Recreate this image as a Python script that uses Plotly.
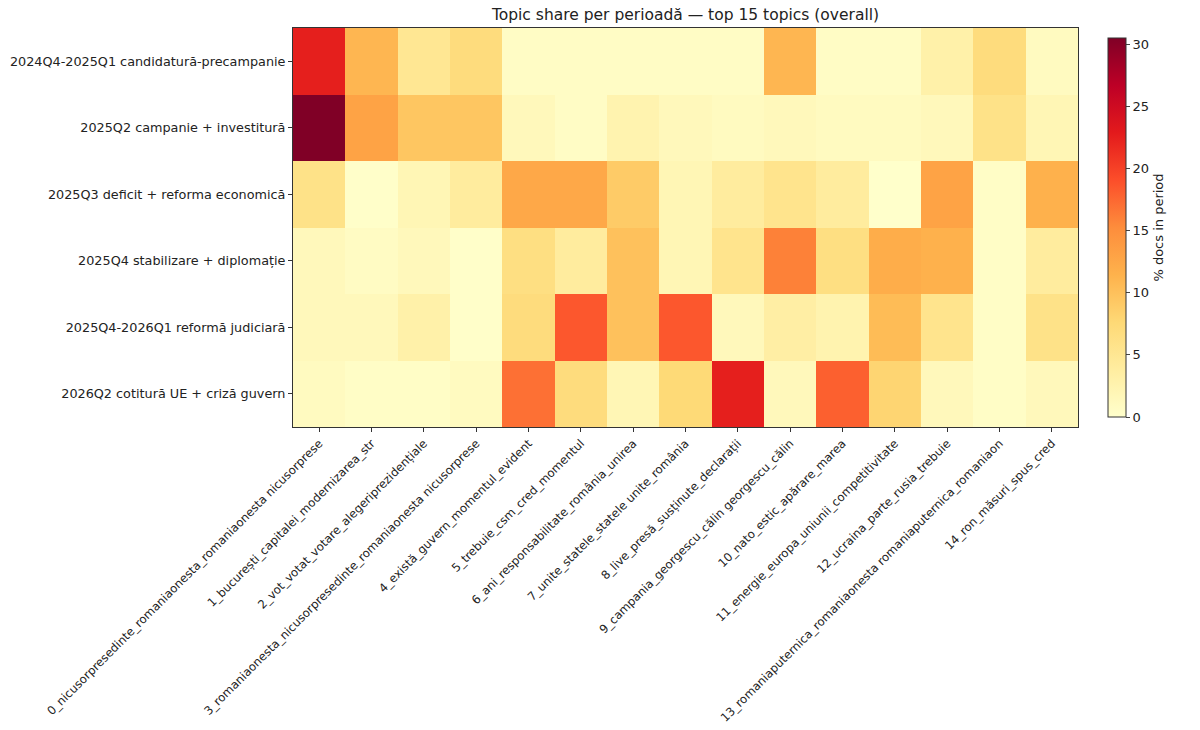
import plotly.graph_objects as go

periods = [
    "2024Q4-2025Q1 candidatură-precampanie",
    "2025Q2 campanie + investitură",
    "2025Q3 deficit + reforma economică",
    "2025Q4 stabilizare + diplomație",
    "2025Q4-2026Q1 reformă judiciară",
    "2026Q2 cotitură UE + criză guvern",
]
topics = [
    "0_nicusorpresedinte_romaniaonesta_romaniaonesta nicusorprese",
    "1_bucurești_capitalei_modernizarea_str",
    "2_vot_votat_votare_alegeriprezidențiale",
    "3_romaniaonesta_nicusorpresedinte_romaniaonesta nicusorprese",
    "4_există_guvern_momentul_evident",
    "5_trebuie_csm_cred_momentul",
    "6_ani_responsabilitate_românia_unirea",
    "7_unite_statele_statele unite_românia",
    "8_live_presă_susținute_declarații",
    "9_campania_georgescu_călin georgescu_călin",
    "10_nato_estic_apărare_marea",
    "11_energie_europa_uniunii_competitivitate",
    "12_ucraina_parte_rusia_trebuie",
    "13_romaniaputernica_romaniaonesta romaniaputernica_romaniaon",
    "14_ron_măsuri_spus_cred",
]
share_2024q4 = [22.5, 11.0, 5.0, 7.0, 0.6, 0.6, 0.6, 0.6, 0.6, 11.0, 0.6, 0.6, 3.0, 7.0, 1.0]
share_2025q2 = [30.5, 13.0, 9.5, 9.5, 1.5, 0.6, 2.5, 1.5, 1.0, 1.5, 1.0, 1.0, 1.5, 6.0, 2.0]
share_2025q3 = [6.0, 0.3, 2.0, 4.0, 12.5, 12.5, 9.0, 2.0, 4.0, 5.5, 4.0, 0.1, 13.0, 0.5, 11.5]
share_2025q4 = [1.5, 0.8, 1.5, 0.3, 6.5, 4.0, 10.0, 2.0, 5.5, 16.0, 6.5, 12.0, 11.5, 0.5, 4.0]
share_2026q1 = [1.5, 1.5, 3.0, 0.3, 7.0, 18.5, 10.0, 18.5, 1.5, 3.5, 2.5, 10.5, 5.5, 0.5, 6.0]
share_2026q2 = [1.0, 0.5, 0.5, 1.0, 17.0, 7.0, 2.0, 7.5, 22.5, 1.5, 18.0, 8.0, 1.5, 0.5, 1.5]

z = [share_2024q4, share_2025q2, share_2025q3, share_2025q4, share_2026q1, share_2026q2]

ylorrd = [
    [0.0, "#ffffcc"], [0.125, "#ffeda0"], [0.25, "#fed976"], [0.375, "#feb24c"],
    [0.5, "#fd8d3c"], [0.625, "#fc4e2a"], [0.75, "#e31a1c"], [0.875, "#bd0026"],
    [1.0, "#800026"],
]

font = "DejaVu Sans, Liberation Sans, sans-serif"

fig = go.Figure(go.Heatmap(
    z=z, x=topics, y=periods,
    colorscale=ylorrd, zmin=0, zmax=max(max(r) for r in z),
    xgap=0, ygap=0,
    colorbar=dict(
        x=1.0255, xanchor="left", xref="paper",
        y=0, yanchor="bottom", len=1, lenmode="fraction",
        thickness=18, outlinewidth=1, outlinecolor="#333",
        tickvals=[0, 5, 10, 15, 20, 25, 30],
        ticks="outside", ticklen=4, tickfont=dict(size=13, color="#222"),
        title=dict(text="% docs in period", side="right", font=dict(size=13, color="#222")),
    ),
))

fig.update_layout(
    width=1200, height=730,
    margin=dict(l=293, r=122, t=28, b=303),
    paper_bgcolor="white", plot_bgcolor="white",
    font=dict(family=font, size=13, color="#222"),
    title=dict(text="Topic share per perioadă — top 15 topics (overall)",
               x=(293 + 1078) / 2 / 1200, xanchor="center", y=1 - 15 / 730, yanchor="middle",
               font=dict(size=15.5, color="#222")),
)
fig.update_xaxes(
    tickangle=-45, ticks="outside", ticklen=4, tickcolor="#333",
    showline=True, linecolor="#333", linewidth=1, mirror=True,
    tickfont=dict(size=11.7), automargin=False,
)
fig.update_yaxes(
    autorange="reversed", ticks="outside", ticklen=4, tickcolor="#333",
    showline=True, linecolor="#333", linewidth=1, mirror=True,
    tickfont=dict(size=12.8), automargin=False,
)

fig.write_html("out.html")
